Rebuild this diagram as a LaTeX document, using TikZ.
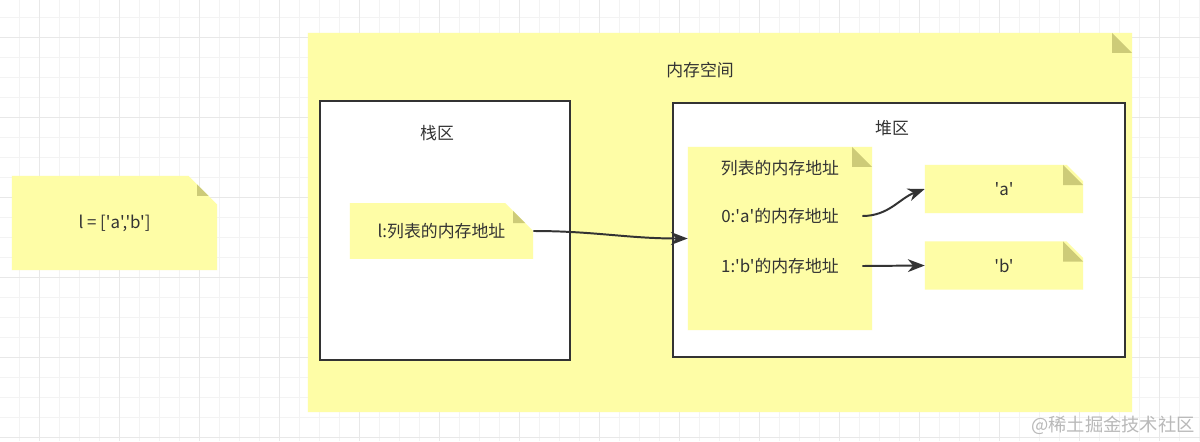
\documentclass[tikz,border=0pt]{standalone}
\usepackage{fontspec}
\newfontfamily\cjk{Noto Sans CJK SC}
\usetikzlibrary{arrows.meta,positioning,shapes.misc}
\definecolor{notefill}{HTML}{FEFDA6}
\definecolor{notefold}{HTML}{CDCB78}
\definecolor{ink}{HTML}{333333}
\definecolor{gridmin}{HTML}{F3F3F3}
\definecolor{gridmaj}{HTML}{E8E8E8}

\begin{document}
\begin{tikzpicture}[x=0.025cm, y=-0.025cm,
  font=\cjk\fontsize{12}{14}\selectfont, text=ink,
  note/.style={chamfered rectangle, chamfered rectangle corners=north east,
    chamfered rectangle xsep=0.5cm, chamfered rectangle ysep=0.5cm,
    fill=notefill, draw=none, inner sep=0pt,
    path picture={\fill[notefold]
      ([xshift=-0.5cm]path picture bounding box.north east) -- ++(0,-0.5cm)
      -- ([yshift=-0.5cm]path picture bounding box.north east) -- cycle;}},
  area/.style={draw=ink, line width=1.4pt, fill=white, inner sep=0pt},
  txt/.style={inner sep=0pt, minimum width=4.1cm},
  arr/.style={draw=ink, line width=1.4pt,
    -{Stealth[length=4.2mm,width=3.2mm,inset=1.3mm]}}]
\fill[white] (0,0) rectangle (1200,441);
\useasboundingbox (0,0) rectangle (1200,441);
% grid
\foreach \gx in {19,39,...,1199} \draw[gridmin, line width=0.6pt] (\gx,0) -- (\gx,441);
\foreach \gy in {17,37,...,437} \draw[gridmin, line width=0.6pt] (0,\gy) -- (1200,\gy);
\foreach \gx in {39,119,...,1159} \draw[gridmaj, line width=0.6pt] (\gx,0) -- (\gx,441);
\foreach \gy in {37,117,...,437} \draw[gridmaj, line width=0.6pt] (0,\gy) -- (1200,\gy);
% notes and areas
\node[note, minimum width=5.125cm, minimum height=2.35cm] (code) at (114.5,223) {l = ['a','b']};
\node[note, minimum width=20.6cm, minimum height=9.475cm] (mem) at (720,222.5) {};
\node (memlbl) at (700,70) {内存空间};
\node[area, minimum width=6.25cm, minimum height=6.475cm] (stack) at (445,230.5) {};
\node (stacklbl) at (437,133) {栈区};
\node[area, minimum width=11.3cm, minimum height=6.35cm] (heap) at (899,230) {};
\node (heaplbl) at (892,128) {堆区};
\node[note, minimum width=4.575cm, minimum height=1.2cm] (ptr) at (441.5,231) {l:列表的内存地址};
\node[note, minimum width=4.6cm, minimum height=4.575cm] (list) at (780,238.5) {};
\node[txt] (ttl) at (780,168) {列表的内存地址};
\node[txt] (t0) at (780,216) {0:'a'的内存地址};
\node[txt] (t1) at (780,266) {1:'b'的内存地址};
\node[note, minimum width=3.95cm, minimum height=1.2cm] (anote) at (1004,189) {'a'};
\node[note, minimum width=3.95cm, minimum height=1.2cm] (bnote) at (1004,265.5) {'b'};
% links
\draw[arr] (ptr.east) to[out=0,in=180] (list.west);
\draw[arr] (t0.east) to[out=0,in=200] (anote.west);
\draw[arr] (t1.east) -- (bnote.west);
\node[text=gray!55, font=\cjk\fontsize{13}{15}\selectfont] (mark) at (1113,425) {@稀土掘金技术社区};
\end{tikzpicture}
\end{document}
